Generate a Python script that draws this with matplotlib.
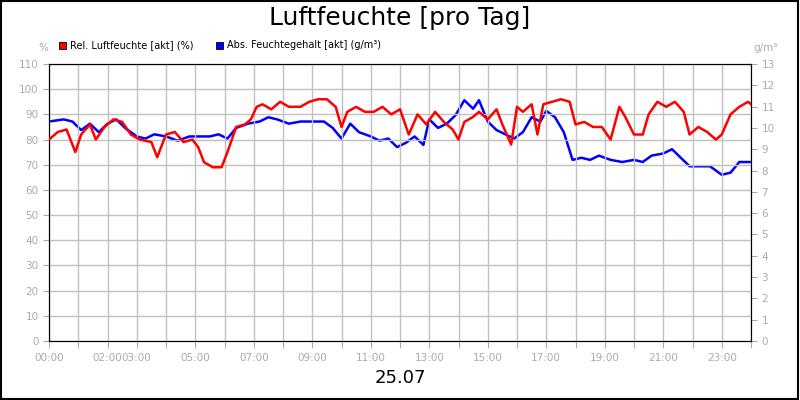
import matplotlib
matplotlib.use("Agg")
import matplotlib.pyplot as plt
from matplotlib.patches import Rectangle

title = "Luftfeuchte [pro Tag]"
date_label = "25.07"
rel_name = "Rel. Luftfeuchte [akt] (%)"
abs_name = "Abs. Feuchtegehalt [akt] (g/m³)"

rel_t = [0,0.3,0.6,0.9,1.1,1.4,1.6,1.9,2.2,2.5,2.8,3.1,3.5,3.7,4.0,4.3,4.6,4.9,5.1,5.3,5.6,5.9,6.1,6.4,6.7,6.9,7.1,7.3,7.6,7.9,8.2,8.6,8.9,9.2,9.5,9.8,10.0,10.2,10.5,10.8,11.1,11.4,11.7,12.0,12.3,12.6,12.9,13.2,13.5,13.8,14.0,14.2,14.5,14.7,15.0,15.3,15.5,15.8,16.0,16.2,16.5,16.7,16.9,17.2,17.5,17.8,18.0,18.3,18.6,18.9,19.2,19.5,19.7,20.0,20.3,20.5,20.8,21.1,21.4,21.7,21.9,22.2,22.5,22.8,23.0,23.3,23.6,23.9,24.0]
rel_v = [80,83,84,75,82,86,80,85,88,87,82,80,79,73,82,83,79,80,77,71,69,69,75,85,86,88,93,94,92,95,93,93,95,96,96,93,85,91,93,91,91,93,90,92,82,90,86,91,87,84,80,87,89,91,88,92,86,78,93,91,94,82,94,95,96,95,86,87,85,85,80,93,89,82,82,90,95,93,95,91,82,85,83,80,82,90,93,95,94]

abs_t = [0,0.5,0.8,1.1,1.4,1.7,2.0,2.3,2.6,3.0,3.3,3.6,4.0,4.4,4.8,5.2,5.5,5.8,6.1,6.4,6.8,7.2,7.5,7.8,8.2,8.6,9.0,9.4,9.7,10.0,10.3,10.6,11.0,11.3,11.6,11.9,12.2,12.5,12.8,13.0,13.3,13.6,13.9,14.2,14.5,14.7,15.0,15.3,15.6,15.9,16.2,16.5,16.8,17.0,17.3,17.6,17.9,18.2,18.5,18.8,19.2,19.6,20.0,20.3,20.6,21.0,21.3,21.6,21.9,22.2,22.6,23.0,23.3,23.6,24.0]
abs_v = [10.3,10.4,10.3,9.9,10.2,9.8,10.2,10.4,10.0,9.6,9.5,9.7,9.6,9.4,9.6,9.6,9.6,9.7,9.5,10.0,10.2,10.3,10.5,10.4,10.2,10.3,10.3,10.3,10.0,9.5,10.2,9.8,9.6,9.4,9.5,9.1,9.3,9.6,9.2,10.4,10.0,10.2,10.6,11.3,10.9,11.3,10.3,9.9,9.7,9.5,9.8,10.5,10.3,10.8,10.5,9.8,8.5,8.6,8.5,8.7,8.5,8.4,8.5,8.4,8.7,8.8,9.0,8.6,8.2,8.2,8.2,7.8,7.9,8.4,8.4]

tick_hours = list(range(25))
tick_labels = {0:"00:00",2:"02:00",3:"03:00",5:"05:00",7:"07:00",9:"09:00",11:"11:00",13:"13:00",15:"15:00",17:"17:00",19:"19:00",21:"21:00",23:"23:00"}

gray = "#aaaaaa"
fig = plt.figure(figsize=(8, 4), dpi=100)
fig.patches.append(Rectangle((0.001, 0.002), 0.997, 0.996, transform=fig.transFigure,
                             fill=False, edgecolor="black", linewidth=1.5))
ax = fig.add_axes([49/800, 59/400, 702/800, 277/400])
ax2 = ax.twinx()

ax.plot(rel_t, rel_v, color="#ff0000", lw=1.8, zorder=3)
ax2.plot(abs_t, abs_v, color="#0000ff", lw=1.8)
ax.set_zorder(ax2.get_zorder() + 1)
ax.patch.set_visible(False)

ax.set_xlim(0, 24)
ax.set_ylim(0, 110)
ax2.set_ylim(0, 13)
ax.set_yticks(range(0, 111, 10))
ax2.set_yticks(range(0, 14))
ax.set_xticks(tick_hours)
ax.set_xticklabels([tick_labels.get(h, "") for h in tick_hours])
ax.grid(True, color="#c0c0c0", lw=1)
for a in (ax, ax2):
    a.tick_params(colors=gray, labelsize=7.5, length=4)
    for s in a.spines.values():
        s.set_color("black")
ax.tick_params(axis="x", length=5)

fig.text(0.5, 0.955, title, ha="center", va="center", fontsize=18)
fig.text(0.5, 0.055, date_label, ha="center", va="center", fontsize=13)
fig.text(43/800, 0.88, "%", ha="center", va="center", fontsize=7.5, color=gray)
fig.text(766/800, 0.88, "g/m³", ha="center", va="center", fontsize=7.5, color=gray)

for x0, c, name in [(59, "#ff0000", rel_name), (216, "#0000ff", abs_name)]:
    fig.patches.append(Rectangle((x0/800, 1-49/400), 7/800, 7/400, transform=fig.transFigure,
                                 facecolor=c, edgecolor="black", lw=0.6))
    fig.text((x0+11)/800, 1-45.5/400, name, ha="left", va="center", fontsize=7)

fig.savefig("out.png", dpi=100)
